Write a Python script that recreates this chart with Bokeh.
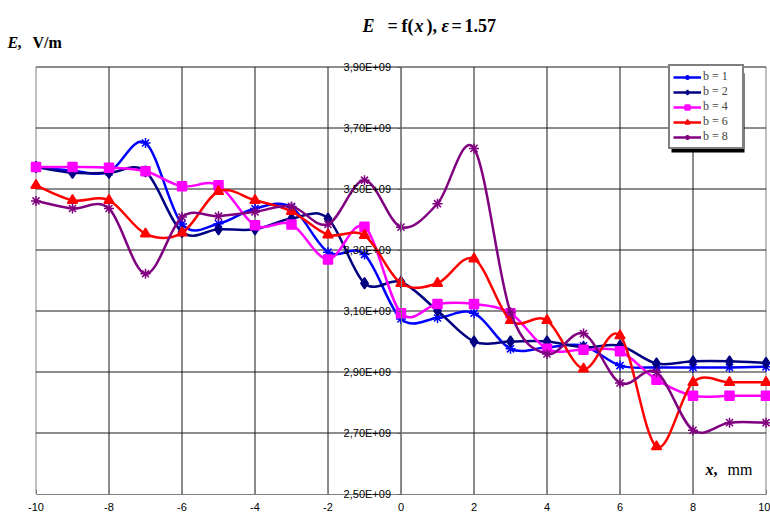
from bokeh.plotting import figure
from bokeh.models import ColumnDataSource, FixedTicker, Label, Legend, LegendItem, BoxAnnotation
from bokeh.embed import file_html
from bokeh.resources import INLINE

# ---------------- data ----------------
x_vals = [-10, -9, -8, -7, -6, -5, -4, -3, -2, -1, 0, 1, 2, 3, 4, 5, 6, 7, 8, 9, 10]

e_b1 = [3.572e9, 3.560e9, 3.556e9, 3.651e9, 3.385e9, 3.386e9, 3.436e9, 3.440e9, 3.293e9, 3.285e9,
        3.074e9, 3.077e9, 3.093e9, 2.976e9, 2.981e9, 2.986e9, 2.921e9, 2.915e9, 2.915e9, 2.915e9, 2.917e9]
e_b2 = [3.572e9, 3.553e9, 3.553e9, 3.558e9, 3.359e9, 3.368e9, 3.368e9, 3.403e9, 3.403e9, 3.191e9,
        3.195e9, 3.101e9, 3.000e9, 3.000e9, 3.000e9, 2.981e9, 2.986e9, 2.928e9, 2.935e9, 2.935e9, 2.930e9]
e_b4 = [3.572e9, 3.572e9, 3.570e9, 3.558e9, 3.509e9, 3.512e9, 3.381e9, 3.384e9, 3.269e9, 3.376e9,
        3.093e9, 3.123e9, 3.123e9, 3.093e9, 2.976e9, 2.973e9, 2.968e9, 2.875e9, 2.822e9, 2.822e9, 2.822e9]
e_b6 = [3.512e9, 3.463e9, 3.463e9, 3.353e9, 3.356e9, 3.492e9, 3.463e9, 3.427e9, 3.350e9, 3.348e9,
        3.191e9, 3.191e9, 3.271e9, 3.069e9, 3.069e9, 2.910e9, 3.019e9, 2.655e9, 2.866e9, 2.866e9, 2.866e9]
e_b8 = [3.461e9, 3.436e9, 3.436e9, 3.222e9, 3.408e9, 3.411e9, 3.425e9, 3.443e9, 3.384e9, 3.529e9,
        3.375e9, 3.452e9, 3.633e9, 3.096e9, 2.959e9, 3.026e9, 2.864e9, 2.899e9, 2.709e9, 2.734e9, 2.734e9]

series_names = ["b = 1", "b = 2", "b = 4", "b = 6", "b = 8"]

x_ticks = [-10, -8, -6, -4, -2, 0, 2, 4, 6, 8, 10]
x_tick_labels = ["-10", "-8", "-6", "-4", "-2", "0", "2", "4", "6", "8", "10"]
y_ticks = [2.5e9, 2.7e9, 2.9e9, 3.1e9, 3.3e9, 3.5e9, 3.7e9, 3.9e9]
y_tick_labels = ["2,50E+09", "2,70E+09", "2,90E+09", "3,10E+09", "3,30E+09", "3,50E+09", "3,70E+09", "3,90E+09"]

# ---------------- layout constants (pixels) ----------------
W, H = 770, 518
PX_PER_X = 36.5            # pixels per 1 mm
PX_PER_Y = 61.0 / 0.2e9    # pixels per V/m
LEFT_PX, TOP_PX = 35.5, 66.5    # page position of x=-10 and of E=3.9e9

x_lo, x_hi = x_ticks[0], x_ticks[-1]
y_lo, y_hi = y_ticks[0], y_ticks[-1]
x_start = x_lo - LEFT_PX / PX_PER_X
x_end = x_start + W / PX_PER_X
y_end = y_hi + TOP_PX / PX_PER_Y
y_start = y_end - H / PX_PER_Y

# ---------------- figure (frame covers the whole canvas) ----------------
p = figure(width=W, height=H, x_range=(x_start, x_end), y_range=(y_start, y_end),
           output_backend="svg", toolbar_location=None,
           min_border_left=0, min_border_right=0, min_border_top=0, min_border_bottom=0)
p.outline_line_color = None
p.background_fill_color = "white"
p.border_fill_color = "white"
p.grid.visible = False

# grid lines drawn from the tick arrays, limited to the plot area
inner_x = x_ticks[1:-1]
inner_y = y_ticks[1:]
p.segment(x0=inner_x, y0=[y_lo] * len(inner_x), x1=inner_x, y1=[y_hi] * len(inner_x),
          line_color="#1a1a1a", line_width=1, level="underlay")
p.segment(x0=[x_lo, x_hi], y0=[y_lo, y_lo], x1=[x_lo, x_hi], y1=[y_hi, y_hi],
          line_color="#808080", line_width=1, level="underlay")
p.segment(x0=[x_lo] * len(inner_y), y0=inner_y, x1=[x_hi] * len(inner_y), y1=inner_y,
          line_color="#1a1a1a", line_width=1, level="underlay")

# x axis at E = 2.5e9
xa = p.xaxis[0]
xa.fixed_location = y_lo
xa.bounds = (x_lo, x_hi)
xa.ticker = FixedTicker(ticks=x_ticks)
xa.major_label_overrides = {t: s for t, s in zip(x_ticks, x_tick_labels)}
xa.axis_line_color = "#808080"
xa.major_tick_line_color = "#808080"
xa.major_tick_in = 5
xa.major_tick_out = 0
xa.minor_tick_line_color = None
xa.major_label_text_font = "Liberation Sans"
xa.major_label_text_font_size = "11px"
xa.major_label_text_color = "black"
xa.major_label_standoff = 9

# y axis at x = 0
ya = p.yaxis[0]
ya.fixed_location = 0
ya.bounds = (y_lo, y_hi)
ya.ticker = FixedTicker(ticks=y_ticks)
ya.major_label_overrides = {t: s for t, s in zip(y_ticks, y_tick_labels)}
ya.axis_line_color = "#808080"
ya.major_tick_line_color = "#606060"
ya.major_tick_in = 0
ya.major_tick_out = 4
ya.minor_tick_line_color = None
ya.major_label_text_font = "Liberation Sans"
ya.major_label_text_font_size = "11px"
ya.major_label_text_color = "black"
ya.major_label_standoff = 6

# ---------------- series ----------------
def bezier_segments(xs, ys):
    n = len(xs)
    d = dict(x0=[], y0=[], x1=[], y1=[], cx0=[], cy0=[], cx1=[], cy1=[])
    for i in range(n - 1):
        xp, yp = (xs[i - 1], ys[i - 1]) if i > 0 else (xs[i], ys[i])
        xn, yn = (xs[i + 2], ys[i + 2]) if i + 2 < n else (xs[i + 1], ys[i + 1])
        d["x0"].append(xs[i]); d["y0"].append(ys[i])
        d["x1"].append(xs[i + 1]); d["y1"].append(ys[i + 1])
        d["cx0"].append(xs[i] + (xs[i + 1] - xp) / 6.0)
        d["cy0"].append(ys[i] + (ys[i + 1] - yp) / 6.0)
        d["cx1"].append(xs[i + 1] - (xn - xs[i]) / 6.0)
        d["cy1"].append(ys[i + 1] - (yn - ys[i]) / 6.0)
    return d

styles = [
    (e_b1, "#0000FF", "asterisk", 10),
    (e_b2, "#000080", "diamond", 11),
    (e_b4, "#FF00FF", "square", 9),
    (e_b6, "#FF0000", "triangle", 10),
    (e_b8, "#800080", "asterisk", 10),
]

items = []
for (ys, color, marker, size), name in zip(styles, series_names):
    src = ColumnDataSource(bezier_segments(x_vals, ys))
    r_line = p.bezier(x0="x0", y0="y0", x1="x1", y1="y1", cx0="cx0", cy0="cy0",
                      cx1="cx1", cy1="cy1", source=src, line_color=color, line_width=2.5)
    r_pts = p.scatter(x=x_vals, y=ys, marker=marker, size=size, line_color=color,
                      fill_color=color, line_width=1.5)
    items.append(LegendItem(label=name, renderers=[r_line, r_pts]))

# legend shadow (black box offset to the lower right)
p.add_layout(BoxAnnotation(left=671, right=744, bottom=H - 152, top=H - 73,
                           left_units="screen", right_units="screen",
                           bottom_units="screen", top_units="screen",
                           fill_color="black", fill_alpha=1, line_color=None))

legend = Legend(items=items, location=(668, 369), border_line_color="black",
                border_line_width=2, background_fill_color="white", background_fill_alpha=1,
                label_text_font="Liberation Serif", label_text_font_size="12px",
                label_text_line_height=1.0, label_width=36,
                glyph_width=28, glyph_height=12, label_height=12, label_standoff=2,
                spacing=-1, padding=3, margin=0)
p.add_layout(legend)

# ---------------- texts ----------------
def lab(x, y_from_top, text, style, size):
    p.add_layout(Label(x=x, y=H - y_from_top, x_units="screen", y_units="screen", text=text,
                       text_font="Liberation Serif", text_font_style=style,
                       text_font_size=size, text_color="black", text_baseline="alphabetic"))

# title: E = f(x ), ε=1.57
lab(362, 25, "E", "bold italic", "18px")
lab(387, 25, "=", "bold", "18px")
lab(401, 25, "f(", "bold", "18px")
lab(414, 25, "x", "bold italic", "18px")
lab(426, 25, ")", "bold", "18px")
lab(432, 25, ",", "bold", "18px")
lab(441, 25, "ε", "bold italic", "18px")
lab(451, 25, "=", "bold", "18px")
lab(464, 25, "1.57", "bold", "18px")

# y-axis name: E, V/m
lab(7, 42, "E", "bold italic", "16px")
lab(17, 42, ",", "bold", "16px")
lab(32, 42, "V/m", "bold", "16px")

# x-axis name: x, mm
lab(705, 469, "x", "bold italic", "16px")
lab(713, 469, ",", "bold", "16px")
lab(727, 469, "mm", "normal", "16px")

open("out.html", "w").write(file_html(p, INLINE))
